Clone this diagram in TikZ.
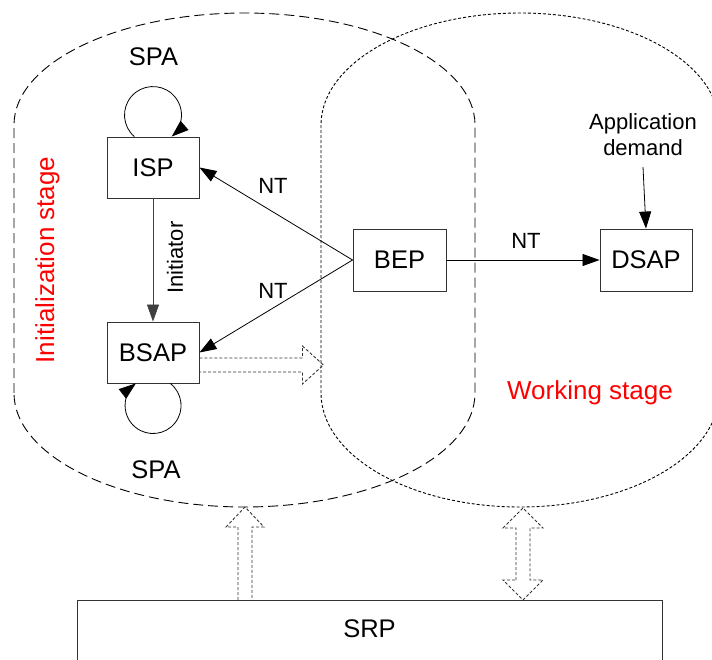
\documentclass[tikz,border=0pt]{standalone}
\usepackage{fontspec}
\setmainfont{Liberation Sans}
\usetikzlibrary{arrows.meta,calc}
\tikzset{
  x=1pt,y=1pt,
  bigtxt/.style={font=\fontsize{25.5}{30}\selectfont},
  smalltxt/.style={font=\fontsize{22}{26}\selectfont},
  stagetxt/.style={font=\fontsize{26}{30}\selectfont, text=red},
  procbox/.style={draw=black!80, line width=0.9pt, minimum width=92pt, minimum height=61pt, inner sep=0pt, bigtxt},
  arr/.style={line width=0.8pt, -{Triangle[length=17pt,width=12pt]}},
  hollow/.style={draw=black!80, line width=0.9pt, dash pattern=on 3pt off 2pt},
  initshape/.style={draw=black, line width=0.9pt, dash pattern=on 10pt off 5pt},
  workshape/.style={draw=black, line width=0.9pt, dash pattern=on 3pt off 2pt},
}
\begin{document}
\begin{tikzpicture}
\useasboundingbox (0,0) rectangle (712,-659);
\clip (0,0) rectangle (712,-659);

% stage outlines
\draw[initshape] (14,-393) -- (14,-125) arc[start angle=180, end angle=0, x radius=230.5, y radius=112]
  -- (475,-393) arc[start angle=0, end angle=-180, x radius=230.5, y radius=114] -- cycle;
\draw[workshape] (321,-393) -- (321,-125) arc[start angle=180, end angle=0, x radius=199, y radius=112]
  -- (719,-393) arc[start angle=0, end angle=-180, x radius=199, y radius=114] -- cycle;

% nodes
\node[procbox] (isp) at (153,-167.5) {ISP};
\node[procbox] (bsap) at (153,-352.5) {BSAP};
\node[procbox, minimum width=93pt, minimum height=62pt] (bep) at (399.5,-260) {BEP};
\node[procbox, minimum height=62pt] (dsap) at (646,-260) {DSAP};
\node[procbox, minimum width=585pt, minimum height=120pt, anchor=north] (srp) at (369.5,-600) {};
\node[bigtxt] (srplabel) at ($(srp.north)+(0,-29)$) {SRP};

\node[bigtxt, anchor=base] (spatop) at (153.5,-65) {SPA};
\node[bigtxt, anchor=base] (spabot) at (156,-478) {SPA};
\node[stagetxt, anchor=base, rotate=90] (initlabel) at (54,-260) {Initialization stage};
\node[stagetxt, anchor=base] (worklabel) at (590,-399) {Working stage};
\node[smalltxt, align=center, anchor=south, inner sep=0pt] (app) at (643,-156) {Application\\demand};

% connectors
\draw[arr, draw=black!75] (isp.south) -- node[smalltxt, rotate=90, pos=0.48, yshift=-22pt] (initiator) {Initiator} (bsap.north);
\draw[arr] (bep.west) -- (isp.east);
\draw[arr] (bep.west) -- (bsap.east);
\draw[arr] (bep.east) -- (dsap.west);
\draw[arr] ([yshift=-11pt]app.south) -- (dsap.north);
\node[smalltxt, anchor=base] (nt1) at (273,-193) {NT};
\node[smalltxt, anchor=base] (nt2) at (273,-298) {NT};
\node[smalltxt, anchor=base] (nt3) at (526,-248) {NT};

% self loops
\draw[arr] ([xshift=-18.7pt]isp.north) arc[start angle=229, end angle=-49, radius=28.5];
\draw[arr] ([xshift=17.3pt]bsap.south) arc[start angle=52, end angle=-232, radius=28];

% hollow dashed arrows
\draw[hollow] ([yshift=-12.5pt]bsap.east) ++(0,7) -- ++(103,0) -- ++(0,12) -- ++(21,-19)
  -- ++(-21,-19) -- ++(0,12) -- ++(-103,0);
\draw[hollow] ([xshift=-124.5pt]srp.north) ++(-7,0) -- ++(0,73) -- ++(-12,0) -- ++(19,20)
  -- ++(19,-20) -- ++(-12,0) -- ++(0,-73);
\draw[hollow] ([xshift=153.5pt]srp.north) ++(-7,20) -- ++(0,52) -- ++(-13,0) -- ++(20,20)
  -- ++(20,-20) -- ++(-13,0) -- ++(0,-52) -- ++(13,0) -- ++(-20,-20) -- ++(-20,20) -- cycle;
\end{tikzpicture}
\end{document}
